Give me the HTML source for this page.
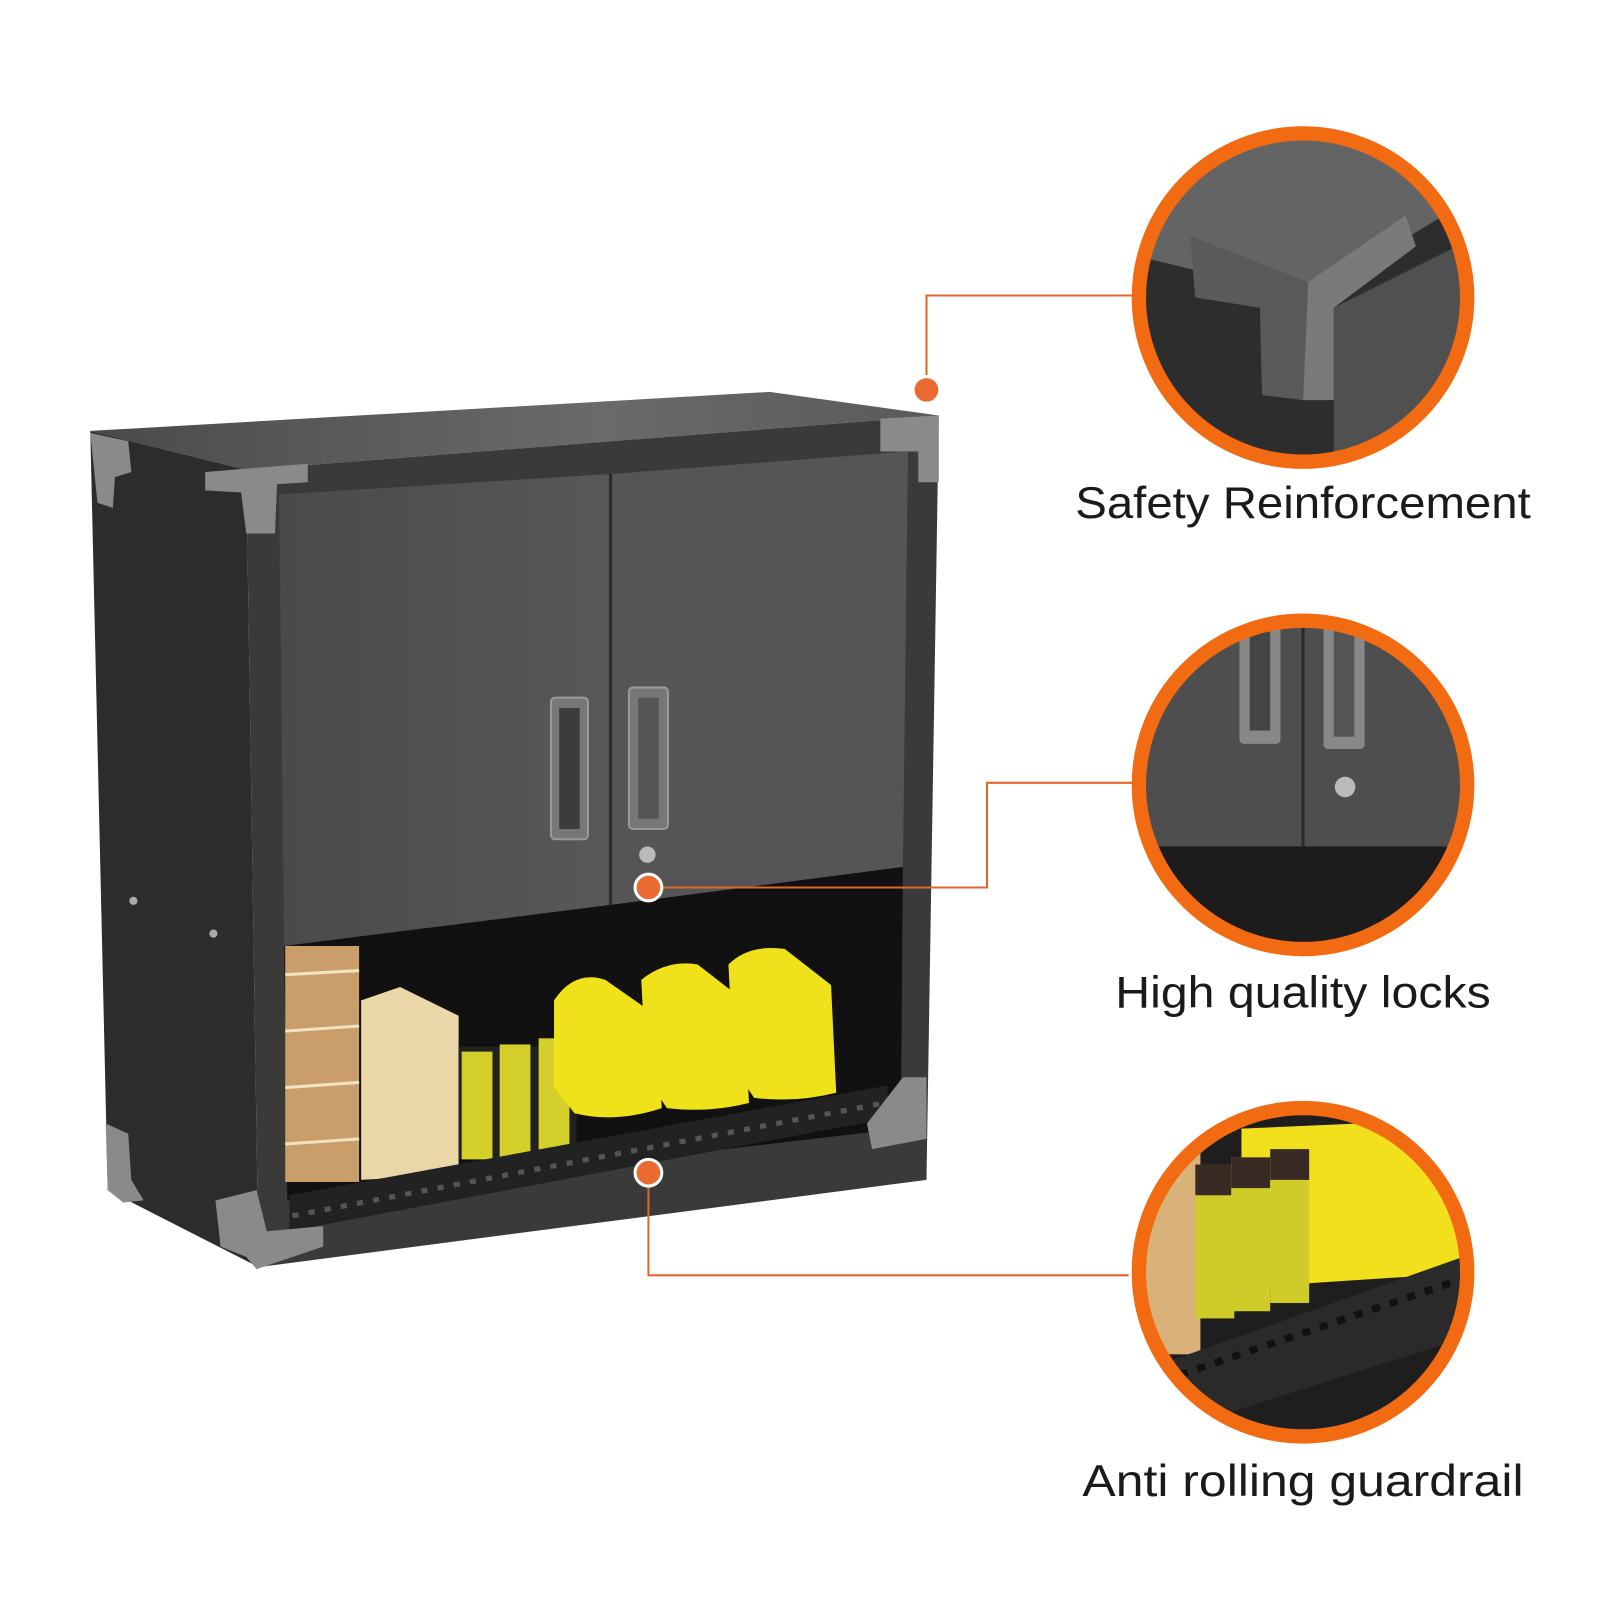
<!DOCTYPE html>
<html><head><meta charset="utf-8"><style>
html,body{margin:0;padding:0;background:#fff;}
svg{display:block;}
text{font-family:"Liberation Sans","DejaVu Sans",sans-serif;fill:#1a1a1a;}
</style></head><body>
<svg width="1600" height="1600" viewBox="0 0 1600 1600" xmlns="http://www.w3.org/2000/svg">
<defs>
<linearGradient id="top" x1="0" y1="0" x2="1" y2="0"><stop offset="0" stop-color="#4a4a4a"/><stop offset="0.6" stop-color="#6a6a6a"/><stop offset="1" stop-color="#5a5a5a"/></linearGradient>
<linearGradient id="door" x1="0" y1="0" x2="1" y2="0"><stop offset="0" stop-color="#4a4a4a"/><stop offset="1" stop-color="#585858"/></linearGradient>
<clipPath id="c1"><circle cx="1270" cy="290" r="158"/></clipPath>
<clipPath id="c2"><circle cx="1270" cy="765" r="158"/></clipPath>
<clipPath id="c3"><circle cx="1270" cy="1240" r="158"/></clipPath>
</defs>
<g transform="scale(1.026)">
<!-- cabinet -->
<polygon points="88,420 750,382 915,405 240,458" fill="url(#top)"/>
<polygon points="88,420 240,458 252,1235 105,1160" fill="#2c2c2c"/>
<polygon points="240,458 915,405 903,1150 252,1235" fill="#3a3a3a"/>
<polygon points="272,482 595,462 595,882 277,922" fill="url(#door)"/>
<polygon points="595,462 885,440 880,845 595,882" fill="#555"/>
<line x1="595" y1="462" x2="595" y2="882" stroke="#2a2a2a" stroke-width="3"/>
<polygon points="277,922 595,882 880,845 878,1100 280,1170" fill="#111"/>
<!-- handles -->
<rect x="537" y="680" width="36" height="138" rx="4" fill="#777" stroke="#999" stroke-width="2"/>
<rect x="545" y="690" width="20" height="118" fill="#3c3c3c"/>
<rect x="613" y="670" width="38" height="138" rx="4" fill="#777" stroke="#999" stroke-width="2"/>
<rect x="622" y="680" width="20" height="118" fill="#555"/>
<circle cx="631" cy="833" r="8" fill="#bbb"/>
<!-- contents -->
<rect x="278" y="922" width="72" height="230" fill="#c99e6a"/>
<g stroke="#f1e2c0" stroke-width="3"><line x1="278" y1="950" x2="350" y2="946"/><line x1="278" y1="1005" x2="350" y2="1000"/><line x1="278" y1="1060" x2="350" y2="1055"/><line x1="278" y1="1115" x2="350" y2="1110"/></g>
<polygon points="352,975 390,962 447,990 447,1145 352,1150" fill="#ead7a8"/>
<rect x="447" y="1020" width="115" height="110" fill="#222"/>
<rect x="450" y="1025" width="30" height="105" fill="#d4cf2a"/>
<rect x="487" y="1018" width="30" height="110" fill="#d4cf2a"/>
<rect x="525" y="1012" width="30" height="112" fill="#d4cf2a"/>
<g fill="#f0e21a"><path d="M540,975 Q560,945 590,955 L640,990 L645,1080 Q600,1095 560,1085 L540,1060Z"/><path d="M625,955 Q650,935 680,940 L725,975 L730,1075 Q690,1085 650,1080 L630,1050Z"/><path d="M710,940 Q730,920 765,925 L810,960 L815,1065 Q775,1075 735,1070 L715,1040Z"/></g>
<!-- guardrail -->
<polygon points="282,1165 865,1058 865,1090 282,1200" fill="#222"/>
<g stroke="#555" stroke-width="5" stroke-dasharray="6,10"><line x1="285" y1="1185" x2="862" y2="1075"/></g>
<!-- corner brackets -->
<g fill="#8a8a8a">
<polygon points="88,422 125,430 128,460 112,465 110,495 95,490"/>
<polygon points="200,460 300,452 300,470 270,472 268,520 240,520 235,480 200,478"/>
<polygon points="858,408 915,405 915,470 895,470 895,440 858,440"/>
<polygon points="103,1095 125,1105 128,1150 140,1170 120,1172 105,1160"/>
<polygon points="210,1170 250,1160 260,1200 315,1195 315,1215 250,1237 240,1225 215,1215"/>
<polygon points="845,1095 880,1050 903,1050 903,1110 850,1120"/>
</g>
<circle cx="130" cy="878" r="4" fill="#aaa"/><circle cx="208" cy="910" r="4" fill="#aaa"/>
<!-- connector lines -->
<g stroke="#e0662a" stroke-width="2" fill="none">
<polyline points="1105,288 903,288 903,370"/>
<polyline points="1105,763 962,763 962,865 642,865"/>
<polyline points="1100,1243 632,1243 632,1153"/>
</g>
<g fill="#ea6a32" stroke="#fff" stroke-width="3">
<circle cx="903" cy="380" r="13"/>
<circle cx="632" cy="865" r="13"/>
<circle cx="632" cy="1143" r="13"/>
</g>
<!-- zoom circles -->
<g clip-path="url(#c1)">
<rect x="1100" y="120" width="340" height="340" fill="#2d2d2d"/>
<polygon points="1100,120 1440,120 1440,190 1275,290 1110,250" fill="#646464"/>
<polygon points="1160,230 1275,275 1270,390 1230,385 1228,300 1165,290" fill="#5a5a5a"/>
<polygon points="1275,275 1370,210 1380,240 1300,300 1300,390 1270,390" fill="#7a7a7a"/>
<polygon points="1300,300 1440,230 1440,460 1300,460" fill="#505050"/>
</g>
<circle cx="1270" cy="290" r="160" fill="none" stroke="#f26a12" stroke-width="14"/>
<g clip-path="url(#c2)">
<rect x="1100" y="600" width="340" height="340" fill="#4e4e4e"/>
<rect x="1100" y="825" width="340" height="120" fill="#1c1c1c"/>
<rect x="1208" y="600" width="40" height="125" rx="4" fill="#888"/><rect x="1218" y="600" width="20" height="112" fill="#444"/>
<rect x="1290" y="600" width="40" height="130" rx="4" fill="#888"/><rect x="1300" y="600" width="20" height="118" fill="#555"/>
<line x1="1270" y1="600" x2="1270" y2="825" stroke="#2a2a2a" stroke-width="3"/>
<circle cx="1311" cy="767" r="10" fill="#bbb"/>
</g>
<circle cx="1270" cy="765" r="160" fill="none" stroke="#f26a12" stroke-width="14"/>
<g clip-path="url(#c3)">
<rect x="1100" y="1075" width="340" height="340" fill="#1e1e1e"/>
<rect x="1100" y="1120" width="70" height="200" fill="#d9b27a"/>
<path d="M1210,1100 L1440,1090 L1440,1240 L1210,1255Z" fill="#f2e01c"/>
<rect x="1165" y="1135" width="38" height="150" fill="#cfcc2a"/><rect x="1165" y="1135" width="38" height="30" fill="#3a2a24"/>
<rect x="1200" y="1128" width="38" height="150" fill="#cfcc2a"/><rect x="1200" y="1128" width="38" height="30" fill="#3a2a24"/>
<rect x="1238" y="1120" width="38" height="150" fill="#cfcc2a"/><rect x="1238" y="1120" width="38" height="30" fill="#3a2a24"/>
<polygon points="1130,1330 1440,1220 1440,1300 1140,1395" fill="#2a2a2a"/>
<g stroke="#111" stroke-width="7" stroke-dasharray="8,10"><line x1="1150" y1="1340" x2="1430" y2="1245"/></g>
</g>
<circle cx="1270" cy="1240" r="160" fill="none" stroke="#f26a12" stroke-width="14"/>
<!-- labels -->
<text x="1270" y="505" font-size="43" text-anchor="middle" textLength="444" lengthAdjust="spacingAndGlyphs">Safety Reinforcement</text>
<text x="1270" y="982" font-size="43" text-anchor="middle" textLength="366" lengthAdjust="spacingAndGlyphs">High quality locks</text>
<text x="1270" y="1458" font-size="43" text-anchor="middle" textLength="430" lengthAdjust="spacingAndGlyphs">Anti rolling guardrail</text>
</g>
</svg>
</body></html>
